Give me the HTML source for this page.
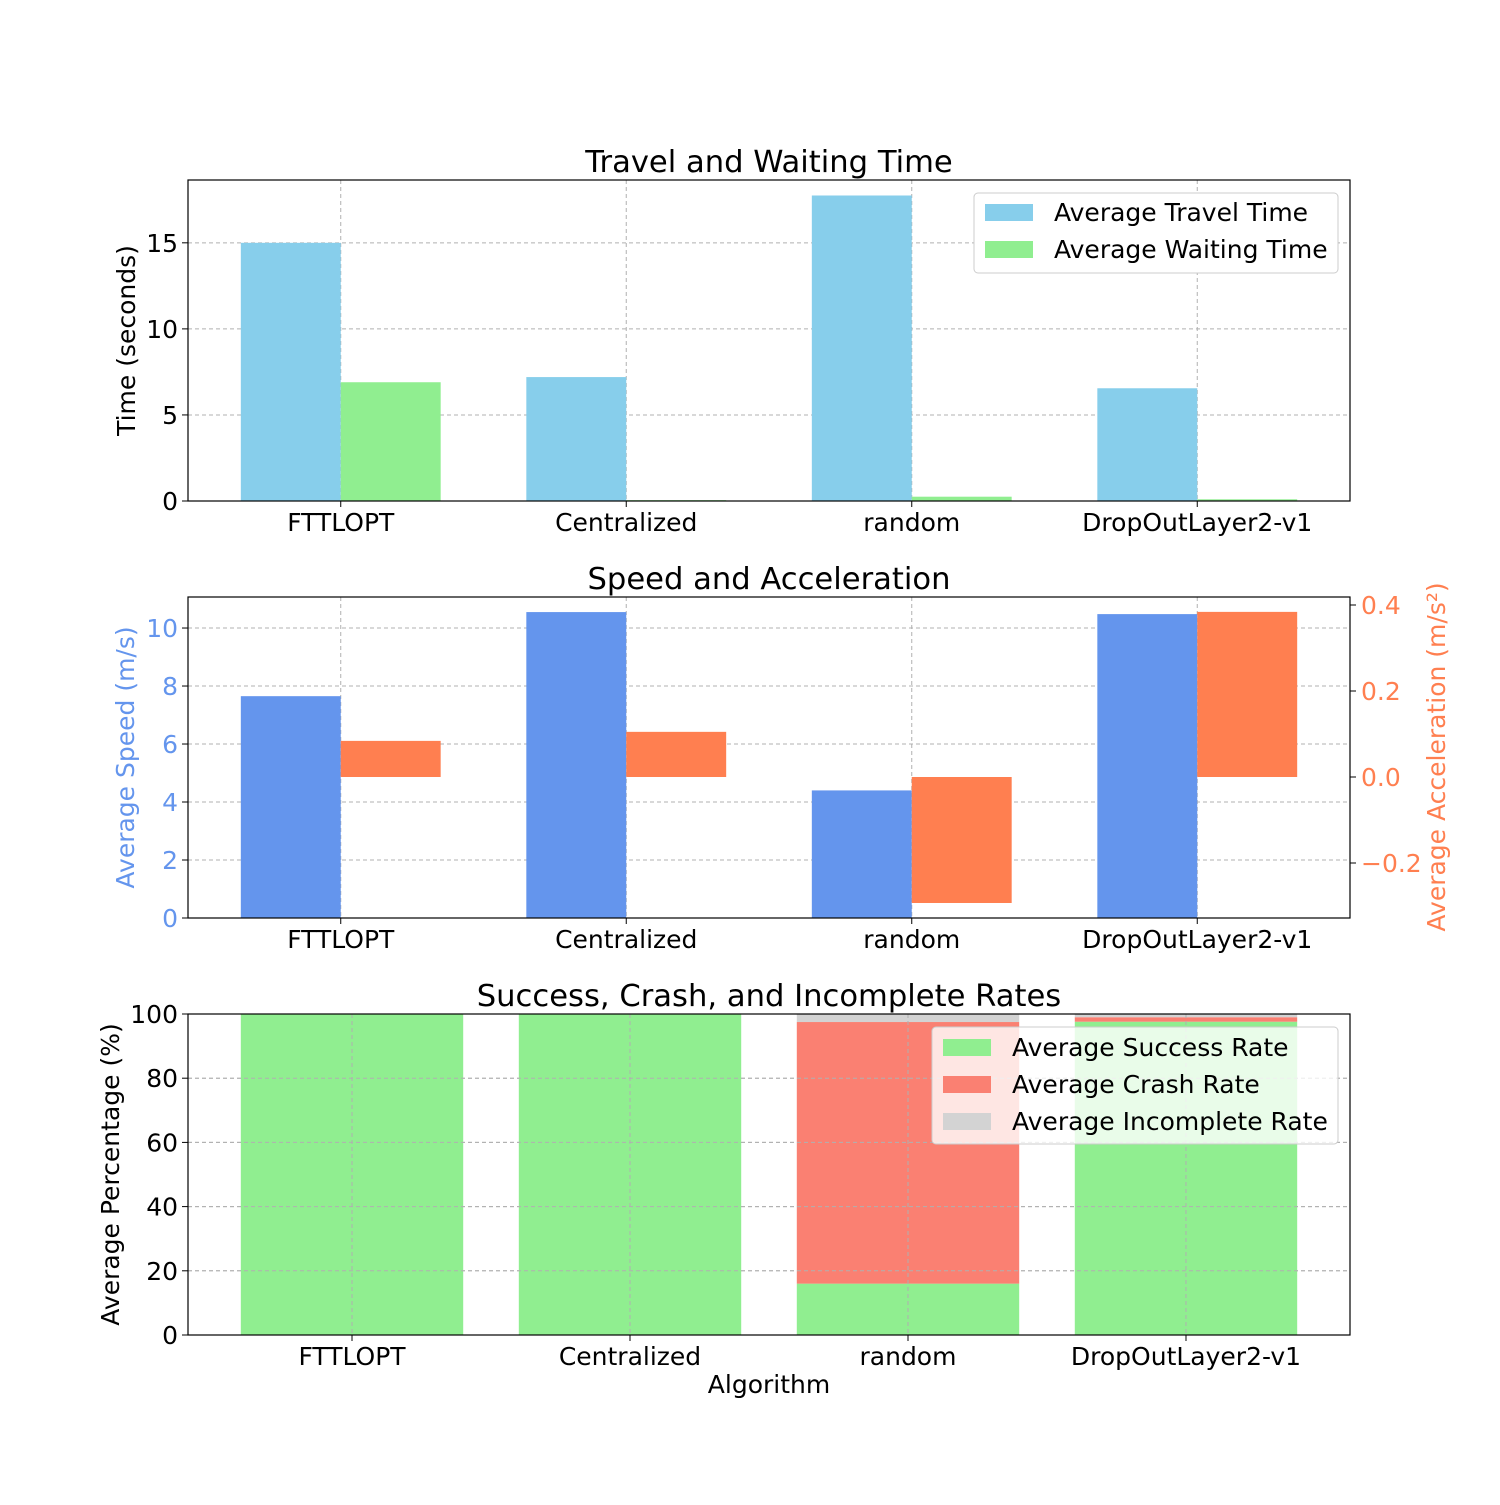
<!DOCTYPE html>
<html><head><meta charset="utf-8"><style>
body{margin:0;background:#fff}
svg text{font-family:"DejaVu Sans","Liberation Sans",sans-serif}
</style></head><body>
<svg id="c" width="1500" height="1500" xmlns="http://www.w3.org/2000/svg"></svg>
<script>
const cats=["FTTLOPT","Centralized","random","DropOutLayer2-v1"];
const travel=[15.0,7.2,17.75,6.55];
const waiting=[6.9,0.05,0.25,0.1];
const speed=[7.65,10.55,4.4,10.48];
const accel=[0.084,0.105,-0.293,0.384];
const success=[100,100,16,97.6];
const crash=[0,0,81.5,1.4];
const incomplete=[0,0,2.5,1.0];
const t1=[0,5,10,15], t2=[0,2,4,6,8,10], t2r=[-0.2,0.0,0.2,0.4], t3=[0,20,40,60,80,100];
const NS="http://www.w3.org/2000/svg",svg=document.getElementById('c');
const FS=25, TS=30.6;
function el(tag,attrs,name,txt){const e=document.createElementNS(NS,tag);for(const k in attrs)e.setAttribute(k,attrs[k]);


if(txt!==undefined)e.textContent=txt;svg.appendChild(e);return e;}
const L=188,R=1350,W=R-L;
function fmt(v){return v<0?'\u2212'+Math.abs(v).toFixed(1):v.toFixed(1);}
function panel(top,bot,ymin,ymax,xmin,xmax,yt,title,ycol,ylab,xc,name){
  const y=v=>bot-(v-ymin)/(ymax-ymin)*(bot-top);
  const x=v=>L+(v-xmin)/(xmax-xmin)*W;
  return {y,x,draw(){
    yt.forEach(t=>{el('line',{x1:L,x2:R,y1:y(t),y2:y(t),stroke:'#b0b0b0','stroke-width':1,'stroke-dasharray':'4,3'},name+'-grid-y');
      el('line',{x1:L-6,x2:L,y1:y(t),y2:y(t),stroke:'#000'},name+'-tick');
      el('text',{x:L-10,y:y(t)+9,'text-anchor':'end','font-size':FS,fill:ycol},name+'-y-tick-label',String(t));});
    cats.forEach((c,i)=>{el('line',{x1:x(i),x2:x(i),y1:top,y2:bot,stroke:'#b0b0b0','stroke-width':1,'stroke-dasharray':'4,3'},name+'-grid-x');
      el('line',{x1:x(i),x2:x(i),y1:bot,y2:bot+6,stroke:'#000'},name+'-x-tick');
      el('text',{x:x(i),y:bot+30,'text-anchor':'middle','font-size':FS},name+'-x-tick-label',c);});
    el('text',{x:(L+R)/2,y:top-8,'text-anchor':'middle','font-size':TS},name+'-title',title);
    el('text',{x:0,y:0,'text-anchor':'middle','font-size':FS,fill:ycol,transform:`translate(${xc},${(top+bot)/2}) rotate(-90)`},name+'-y-axis-title',ylab);
  },frame(){el('rect',{x:L,y:top,width:W,height:bot-top,fill:'none',stroke:'#000','stroke-width':1.2},name+'-frame');}};
}
// Panel 1
let p=panel(180,501,0,18.65,-0.535,3.535,t1,'Travel and Waiting Time','#000','Time (seconds)',135,'p1');p.draw();
cats.forEach((c,i)=>{
  el('rect',{x:p.x(i-0.35),y:p.y(travel[i]),width:p.x(0)-p.x(-0.35),height:p.y(0)-p.y(travel[i]),fill:'#87ceeb'},'travel-bar');
  el('rect',{x:p.x(i),y:p.y(waiting[i]),width:p.x(0.35)-p.x(0),height:p.y(0)-p.y(waiting[i]),fill:'#90ee90'},'waiting-bar');});
p.frame();
el('rect',{x:974,y:193,width:364,height:80,fill:'#fff',stroke:'#ccc',rx:4},'p1-legend');
el('rect',{x:985,y:204,width:48,height:17,fill:'#87ceeb'},'legend-travel-swatch');
el('text',{x:1054,y:221,'font-size':FS},'legend-travel-label','Average Travel Time');
el('rect',{x:985,y:241,width:48,height:17,fill:'#90ee90'},'legend-waiting-swatch');
el('text',{x:1054,y:258,'font-size':FS},'legend-waiting-label','Average Waiting Time');
// Panel 2
p=panel(597,918,0,11.07,-0.535,3.535,t2,'Speed and Acceleration','#6495ed','Average Speed (m/s)',134,'p2');p.draw();
const yr=v=>777-v*430;
t2r.forEach(t=>{el('line',{x1:R,x2:R+6,y1:yr(t),y2:yr(t),stroke:'#000'},'p2-right-tick');
  el('text',{x:R+11,y:yr(t)+9,'font-size':FS,fill:'#ff7f50'},'p2-right-tick-label',fmt(t));});
el('text',{x:0,y:0,'text-anchor':'middle','font-size':FS,fill:'#ff7f50',transform:`translate(1445,757) rotate(-90)`},'p2-right-axis-title','Average Acceleration (m/s²)');
cats.forEach((c,i)=>{
  el('rect',{x:p.x(i-0.35),y:p.y(speed[i]),width:p.x(0)-p.x(-0.35),height:p.y(0)-p.y(speed[i]),fill:'#6495ed'},'speed-bar');
  const a=accel[i];
  el('rect',{x:p.x(i),y:Math.min(yr(a),yr(0)),width:p.x(0.35)-p.x(0),height:Math.abs(yr(a)-yr(0)),fill:'#ff7f50'},'accel-bar');});
p.frame();
// Panel 3
p=panel(1014,1335,0,100,-0.59,3.59,t3,'Success, Crash, and Incomplete Rates','#000','Average Percentage (%)',119,'p3');
p.draw();
cats.forEach((c,i)=>{const x0=p.x(i-0.4),w=p.x(0.4)-p.x(-0.4);
  el('rect',{x:x0,y:p.y(success[i]),width:w,height:p.y(0)-p.y(success[i]),fill:'#90ee90'},'success-bar');
  el('rect',{x:x0,y:p.y(success[i]+crash[i]),width:w,height:p.y(success[i])-p.y(success[i]+crash[i]),fill:'#fa8072'},'crash-bar');
  const t=success[i]+crash[i]+incomplete[i];
  el('rect',{x:x0,y:p.y(t),width:w,height:p.y(success[i]+crash[i])-p.y(t),fill:'#d3d3d3'},'incomplete-bar');
  el('line',{x1:p.x(i),x2:p.x(i),y1:1014,y2:1335,stroke:'#b0b0b0','stroke-dasharray':'4,3'},'p3-grid-x-over');});
t3.forEach(t=>el('line',{x1:L,x2:R,y1:p.y(t),y2:p.y(t),stroke:'#b0b0b0','stroke-dasharray':'4,3'},'p3-grid-y-over'));
p.frame();
el('text',{x:769,y:1393,'text-anchor':'middle','font-size':FS},'x-axis-title','Algorithm');
el('rect',{x:932,y:1027,width:406,height:117,fill:'#fff','fill-opacity':0.8,stroke:'#ccc',rx:4},'p3-legend');
[['#90ee90','Average Success Rate'],['#fa8072','Average Crash Rate'],['#d3d3d3','Average Incomplete Rate']].forEach((d,k)=>{
  el('rect',{x:943,y:1039+k*37,width:48,height:17,fill:d[0]},'legend-swatch');
  el('text',{x:1012,y:1056+k*37,'font-size':FS},'legend-label',d[1]);});
</script>
</body></html>
